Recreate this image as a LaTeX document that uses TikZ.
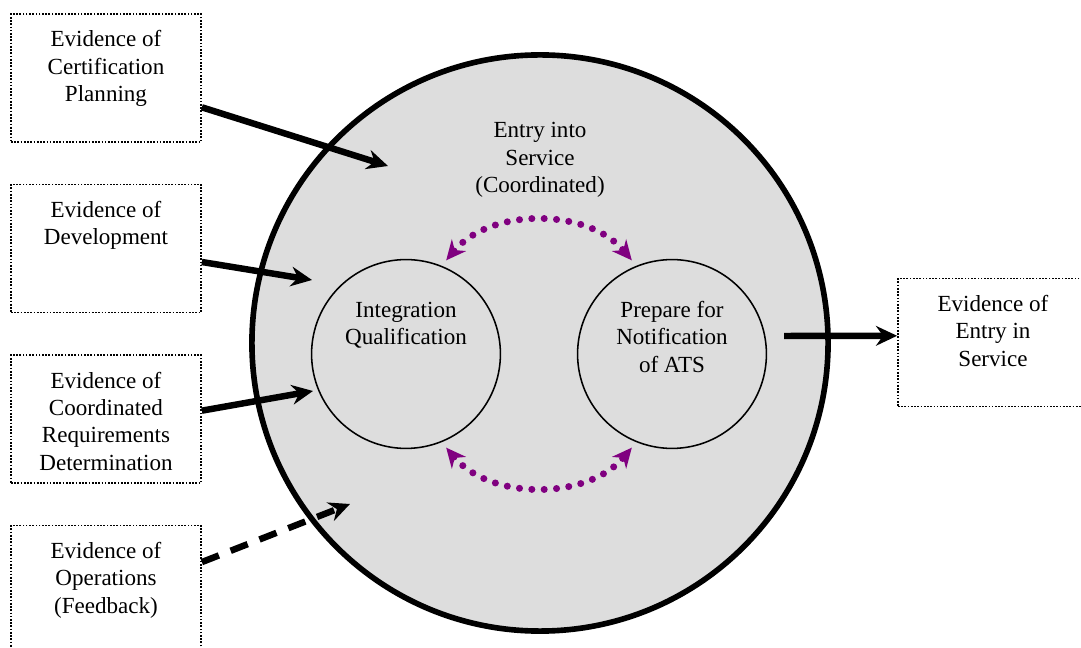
\documentclass[tikz,border=0pt]{standalone}
\usepackage{fontspec}
\setmainfont{Liberation Serif}
\usepackage{tikz}
\usetikzlibrary{positioning,arrows.meta}
\definecolor{discgray}{RGB}{221,221,221}
\definecolor{linkpurple}{RGB}{128,0,128}
\newcommand{\evtext}[1]{\parbox[c][3.2cm][t]{4.75cm}{\centering\vspace*{9.8pt}\strut#1}}
\newcommand{\activity}[1]{\parbox[c][2.8cm][t]{3.2cm}{\centering\strut#1}}

\begin{document}
\begin{tikzpicture}[
  x=0.025cm, y=-0.025cm,
  font=\fontsize{16.4pt}{19.5pt}\selectfont,
  node distance=1.02cm,
  evbox/.style={rectangle, draw, line width=1.2pt, dash pattern=on 1.2pt off 1.1pt, inner sep=0pt},
  disc/.style={circle, draw, fill=discgray, line width=4pt, minimum size=14.4cm, inner sep=0pt},
  activity/.style={circle, draw, line width=1.1pt, minimum size=4.72cm, inner sep=0pt},
  feed/.style={line width=4.6pt, -{Stealth[length=15pt, width=14pt, inset=5pt]}},
  link/.style={linkpurple, line width=5pt, line cap=round, dash pattern=on 0pt off 8.8pt,
    {Stealth[length=14pt, width=13pt, inset=4.5pt]}-{Stealth[length=14pt, width=13pt, inset=4.5pt]},
    shorten <=5pt, shorten >=5pt}
]
\useasboundingbox (0,0) rectangle (1081,648);

\node[disc] (eis) at (540,343) {};
\node[align=center] (eislabel) at (540,160) {Entry into\\Service\\(Coordinated)};
\node[activity] (integ) at (406,354) {\activity{Integration\\Qualification}};
\node[activity] (notify) at (672,354) {\activity{Prepare for\\Notification\\of ATS}};

\node[evbox] (cert) at (106,78) {\evtext{Evidence of\\Certification\\Planning}};
\node[evbox, below=of cert] (devel) {\evtext{Evidence of\\Development}};
\node[evbox, below=of devel] (coord) {\evtext{Evidence of\\Coordinated\\Requirements\\Determination}};
\node[evbox, below=of coord] (oper) {\evtext{Evidence of\\Operations\\(Feedback)}};
\node[evbox] (entry) at (993,342.5) {\evtext{Evidence of\\Entry in\\Service}};

\coordinate (certin) at (388,166);
\coordinate (develin) at (312,280);
\coordinate (coordin) at (313,391);
\coordinate (operin) at (350,504);
\coordinate (eisout) at (784,336);

\draw[feed] (cert.-17.5) -- (certin);
\draw[feed] (devel.-8.1) -- (develin);
\draw[feed] (coord.5.1) -- (coordin);
\draw[feed, dash pattern=on 13pt off 9pt] (oper.16.4) -- (operin);
\draw[feed] (eisout) -- (entry.176);

\draw[link] (integ.68) to[out=50, in=130] (notify.112);
\draw[link] (integ.-68) to[out=-50, in=-130] (notify.-112);
\end{tikzpicture}
\end{document}
